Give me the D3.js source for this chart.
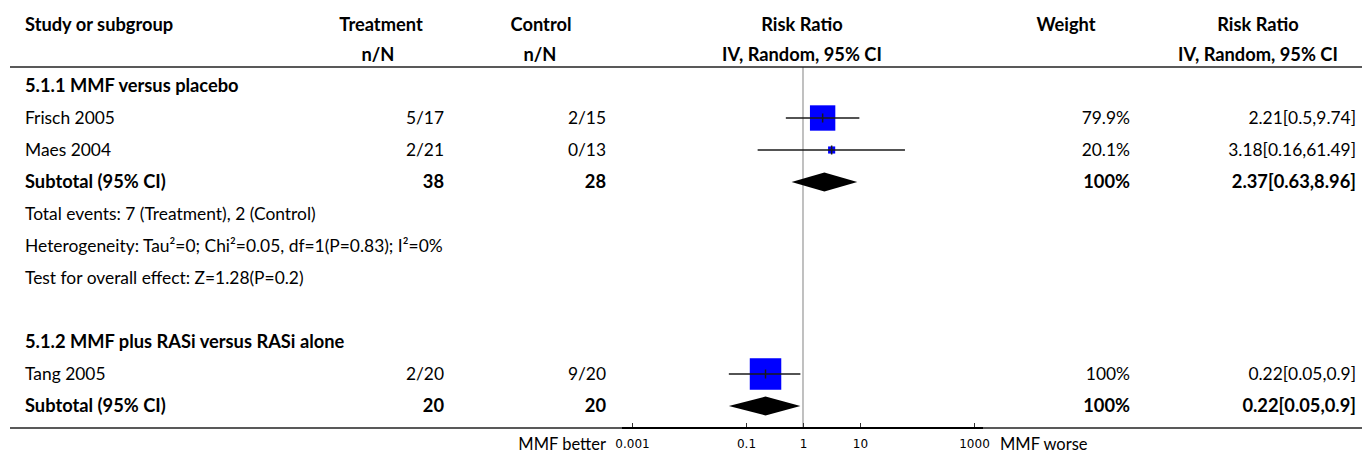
<!DOCTYPE html>
<html>
<head>
<meta charset="utf-8">
<script src="https://cdn.jsdelivr.net/npm/d3@7"></script>
<style>
  html, body { margin: 0; padding: 0; background: #fff; }
  svg { display: block; }
  text { font-family: Lato, "Open Sans", sans-serif; font-size: 17.4px; fill: #000; }
  .bold { font-weight: bold; font-size: 18.3px; }
  .side { font-size: 16.5px; }
  .tick text { font-family: "DejaVu Sans", sans-serif; font-size: 12px; }
</style>
</head>
<body>
<svg id="chart" width="1362" height="454"></svg>
<script>
// Subgroups and their studies
const groupTitles = ["5.1.1 MMF versus placebo", "5.1.2 MMF plus RASi versus RASi alone"];
const studyNames = ["Frisch 2005", "Maes 2004", "Tang 2005"];
const studyGroup = [0, 0, 1];
const treatEvents = [5, 2, 2];
const treatTotal = [17, 21, 20];
const ctrlEvents = [2, 0, 9];
const ctrlTotal = [15, 13, 20];
const studyRR = [2.21, 3.18, 0.22];
const studyLo = [0.5, 0.16, 0.05];
const studyHi = [9.74, 61.49, 0.9];
const studyWeight = [79.9, 20.1, 100];

// Pooled results per subgroup
const subtotalTreat = [38, 20];
const subtotalCtrl = [28, 20];
const subtotalRR = [2.37, 0.22];
const subtotalLo = [0.63, 0.05];
const subtotalHi = [8.96, 0.9];
const subtotalWeight = [100, 100];
const groupNotes = [
  ["Total events: 7 (Treatment), 2 (Control)",
   "Heterogeneity: Tau\u00B2=0; Chi\u00B2=0.05, df=1(P=0.83); I\u00B2=0%",
   "Test for overall effect: Z=1.28(P=0.2)"],
  []
];

// Axis
const axisTicks = [0.001, 0.1, 1, 10, 1000];
const axisDomain = [0.001, 1000];
const leftLabel = "MMF better";
const rightLabel = "MMF worse";

const headers1 = ["Study or subgroup", "Treatment", "Control", "Risk Ratio", "Weight", "Risk Ratio"];
const headers2 = ["n/N", "n/N", "IV, Random, 95% CI", "IV, Random, 95% CI"];

const svg = d3.select("#chart");
const W = 1362;

// column geometry
const col = {
  study: 25,
  treatRight: 444, treatHead: 381,
  ctrlRight: 606, ctrlHead: 541,
  plotHead: 802,
  weightRight: 1130, weightHead: 1066,
  ciRight: 1356, ciHead: 1258
};

const x = d3.scaleLog().domain(axisDomain).range([632, 974]);
const boxSize = d3.scaleLinear().domain([0, 100]).range([1, 31.5]);

// build the row list
const rows = [];
groupTitles.forEach((title, g) => {
  if (g > 0) rows.push({ type: "blank" });
  rows.push({ type: "group", label: title });
  studyNames.forEach((name, i) => {
    if (studyGroup[i] !== g) return;
    rows.push({
      type: "study", label: name,
      treat: `${treatEvents[i]}/${treatTotal[i]}`,
      ctrl: `${ctrlEvents[i]}/${ctrlTotal[i]}`,
      rr: studyRR[i], lo: studyLo[i], hi: studyHi[i], w: studyWeight[i]
    });
  });
  rows.push({
    type: "subtotal", label: "Subtotal (95% CI)",
    treat: String(subtotalTreat[g]), ctrl: String(subtotalCtrl[g]),
    rr: subtotalRR[g], lo: subtotalLo[g], hi: subtotalHi[g], w: subtotalWeight[g]
  });
  groupNotes[g].forEach(n => rows.push({ type: "note", label: n }));
});

const rowTop = 86, rowStep = 32;
rows.forEach((r, i) => r.y = rowTop + i * rowStep);
const lastY = rows[rows.length - 1].y;
const bottomLine = lastY + 22;

// header
const h1y = 25, h2y = 55, headLine = 67;
const hpos1 = [[col.study, "start"], [col.treatHead, "middle"], [col.ctrlHead, "middle"],
               [col.plotHead, "middle"], [col.weightHead, "middle"], [col.ciHead, "middle"]];
headers1.forEach((t, i) => {
  svg.append("text").attr("class", "bold").attr("x", hpos1[i][0]).attr("y", h1y)
    .attr("dy", "0.35em").attr("text-anchor", hpos1[i][1]).text(t);
});
const hpos2 = [col.treatHead - 3, col.ctrlHead - 1, col.plotHead, col.ciHead];
headers2.forEach((t, i) => {
  svg.append("text").attr("class", "bold").attr("x", hpos2[i]).attr("y", h2y)
    .attr("dy", "0.35em").attr("text-anchor", "middle").text(t);
});

// null line at RR = 1
svg.append("line")
  .attr("x1", x(1)).attr("x2", x(1)).attr("y1", headLine).attr("y2", bottomLine)
  .attr("stroke", "#a6a6a6").attr("stroke-width", 1.4);

// table rules
svg.append("line").attr("x1", 10).attr("x2", W).attr("y1", headLine).attr("y2", headLine)
  .attr("stroke", "#222").attr("stroke-width", 1.5);
svg.append("line").attr("x1", 10).attr("x2", W).attr("y1", bottomLine).attr("y2", bottomLine)
  .attr("stroke", "#222").attr("stroke-width", 1.5);

// rows
const g = svg.append("g");
rows.forEach(r => {
  if (r.type === "blank") return;
  const bold = r.type === "group" || r.type === "subtotal";
  const txt = (xp, anchor, s) => g.append("text")
    .attr("class", bold ? "bold" : null)
    .attr("x", xp).attr("y", r.y).attr("dy", "0.35em")
    .attr("text-anchor", anchor).text(s);
  txt(col.study, "start", r.label);
  if (r.type !== "study" && r.type !== "subtotal") return;
  txt(col.treatRight, "end", r.treat);
  txt(col.ctrlRight, "end", r.ctrl);
  txt(col.weightRight, "end", `${r.w}%`);
  txt(col.ciRight, "end", `${r.rr}[${r.lo},${r.hi}]`);

  if (r.type === "study") {
    const s = boxSize(r.w);
    g.append("rect")
      .attr("x", x(r.rr) - s / 2).attr("y", r.y - s / 2)
      .attr("width", s).attr("height", s).attr("fill", "#0000ff");
    g.append("line")
      .attr("x1", x(r.lo)).attr("x2", x(r.hi)).attr("y1", r.y).attr("y2", r.y)
      .attr("stroke", "#1a1a1a").attr("stroke-width", 1.3);
    g.append("line")
      .attr("x1", x(r.rr)).attr("x2", x(r.rr)).attr("y1", r.y - 4.5).attr("y2", r.y + 4.5)
      .attr("stroke", "#1a1a1a").attr("stroke-width", 1.5);
  } else {
    const hh = 9.5;
    g.append("path")
      .attr("d", `M${x(r.lo)},${r.y} L${x(r.rr)},${r.y - hh} L${x(r.hi)},${r.y} L${x(r.rr)},${r.y + hh} Z`)
      .attr("fill", "#000");
  }
});

// axis
const axis = d3.axisBottom(x)
  .tickValues(axisTicks)
  .tickFormat(d => String(d))
  .tickSize(-5)
  .tickSizeOuter(0)
  .tickPadding(11);
const ax = svg.append("g").attr("transform", `translate(0,${bottomLine})`).call(axis);
ax.select(".domain").remove();
ax.append("line").attr("x1", 622).attr("x2", 983).attr("y1", 0).attr("y2", 0)
  .attr("stroke", "#000").attr("stroke-width", 2);
ax.selectAll(".tick line").attr("stroke", "#333").attr("stroke-width", 1);
ax.selectAll(".tick text").attr("fill", "#000").attr("font-family", "DejaVu Sans").attr("font-size", 12);

svg.append("text").attr("class", "side").attr("x", 606).attr("y", bottomLine + 16).attr("dy", "0.35em")
  .attr("text-anchor", "end").text(leftLabel);
svg.append("text").attr("class", "side").attr("x", 1000).attr("y", bottomLine + 16).attr("dy", "0.35em")
  .attr("text-anchor", "start").text(rightLabel);
</script>
</body>
</html>
